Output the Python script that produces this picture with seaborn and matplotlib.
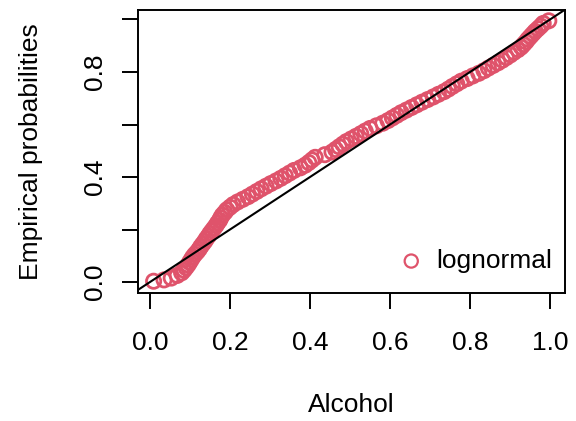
import matplotlib
matplotlib.use("Agg")
import matplotlib.pyplot as plt
import seaborn as sns
import pandas as pd

# theoretical (lognormal) vs empirical probabilities
theoretical = [0.009, 0.035, 0.053, 0.068, 0.079, 0.085, 0.090, 0.095, 0.099, 0.103,
               0.107, 0.112, 0.118, 0.123, 0.127, 0.132, 0.137, 0.141, 0.146, 0.150,
               0.155, 0.160, 0.165, 0.169, 0.174, 0.177, 0.181, 0.187, 0.192, 0.200,
               0.208, 0.219, 0.232, 0.245, 0.256, 0.267, 0.278, 0.290, 0.302, 0.315,
               0.327, 0.338, 0.349, 0.360, 0.376, 0.388, 0.397, 0.405, 0.413, 0.437,
               0.455, 0.464, 0.473, 0.482, 0.491, 0.503, 0.515, 0.527, 0.538, 0.550,
               0.566, 0.582, 0.595, 0.606, 0.617, 0.628, 0.641, 0.654, 0.667, 0.680,
               0.694, 0.708, 0.721, 0.735, 0.746, 0.756, 0.767, 0.778, 0.793, 0.807,
               0.822, 0.835, 0.846, 0.858, 0.870, 0.881, 0.891, 0.901, 0.910, 0.920,
               0.928, 0.934, 0.940, 0.945, 0.951, 0.957, 0.963, 0.970, 0.977, 0.983,
               0.997]
empirical = [0.003, 0.008, 0.015, 0.025, 0.035, 0.045, 0.055, 0.065, 0.075, 0.085,
             0.095, 0.105, 0.115, 0.125, 0.135, 0.145, 0.155, 0.165, 0.175, 0.185,
             0.195, 0.205, 0.215, 0.225, 0.235, 0.245, 0.255, 0.265, 0.275, 0.285,
             0.295, 0.305, 0.315, 0.325, 0.335, 0.345, 0.355, 0.365, 0.375, 0.385,
             0.395, 0.405, 0.415, 0.425, 0.435, 0.445, 0.455, 0.465, 0.475, 0.485,
             0.495, 0.505, 0.515, 0.525, 0.535, 0.545, 0.555, 0.565, 0.575, 0.585,
             0.595, 0.605, 0.615, 0.625, 0.635, 0.645, 0.655, 0.665, 0.675, 0.685,
             0.695, 0.705, 0.715, 0.725, 0.735, 0.745, 0.755, 0.765, 0.775, 0.785,
             0.795, 0.805, 0.815, 0.825, 0.835, 0.845, 0.855, 0.865, 0.875, 0.885,
             0.895, 0.905, 0.915, 0.925, 0.935, 0.945, 0.955, 0.965, 0.975, 0.985,
             0.995]
x_ticks = [0.0, 0.2, 0.4, 0.6, 0.8, 1.0]
x_labels = ["0.0", "0.2", "0.4", "0.6", "0.8", "1.0"]
y_ticks = [0.0, 0.2, 0.4, 0.6, 0.8, 1.0]
y_labels = ["0.0", "", "0.4", "", "0.8", ""]

df = pd.DataFrame({"theo": theoretical, "emp": empirical})

sns.set_style("ticks")
plt.rcParams["font.family"] = ["Liberation Sans", "DejaVu Sans"]
plt.rcParams["text.color"] = "black"
plt.rcParams["axes.labelcolor"] = "black"

red = "#DF536B"
fig = plt.figure(figsize=(5.76, 4.21), dpi=100)
ax = fig.add_axes([0.2396, 0.3040, 0.7413, 0.6734])

sns.scatterplot(data=df, x="theo", y="emp", ax=ax, marker="o", s=105,
                facecolors="none", edgecolor=red, color=red, linewidth=2.0,
                label="lognormal", zorder=2)
ax.axline((0, 0), slope=1, color="black", linewidth=1.5, zorder=3)

ax.set_xlim(-0.03, 1.0375)
ax.set_ylim(-0.0419, 1.038)
ax.set_xticks(x_ticks)
ax.set_xticklabels(x_labels)
ax.set_yticks(y_ticks)
ax.set_yticklabels(y_labels, rotation=90, va="center")

for sp in ax.spines.values():
    sp.set_visible(True)
    sp.set_color("black")
    sp.set_linewidth(1.4)

ax.tick_params(axis="both", direction="out", length=11.5, width=1.4,
               color="black", labelsize=19, labelcolor="black",
               bottom=True, left=True)
ax.tick_params(axis="x", pad=15.5)
ax.tick_params(axis="y", pad=10.5)

ax.set_xlabel("Alcohol", fontsize=19, va="center")
ax.set_ylabel("Empirical probabilities", fontsize=19, va="center")
ax.xaxis.set_label_coords(0.5, -0.395)
ax.yaxis.set_label_coords(-0.2506, 0.5)

leg = ax.legend(loc="center right", bbox_to_anchor=(0.97, 0.113), frameon=False,
                fontsize=19, handletextpad=0.45, borderpad=0, borderaxespad=0,
                handlelength=1.0)
for h in leg.legend_handles:
    h.set_linewidth(1.6)
    h.set_sizes([90])

fig.savefig("out.png", dpi=100)
plt.close(fig)
